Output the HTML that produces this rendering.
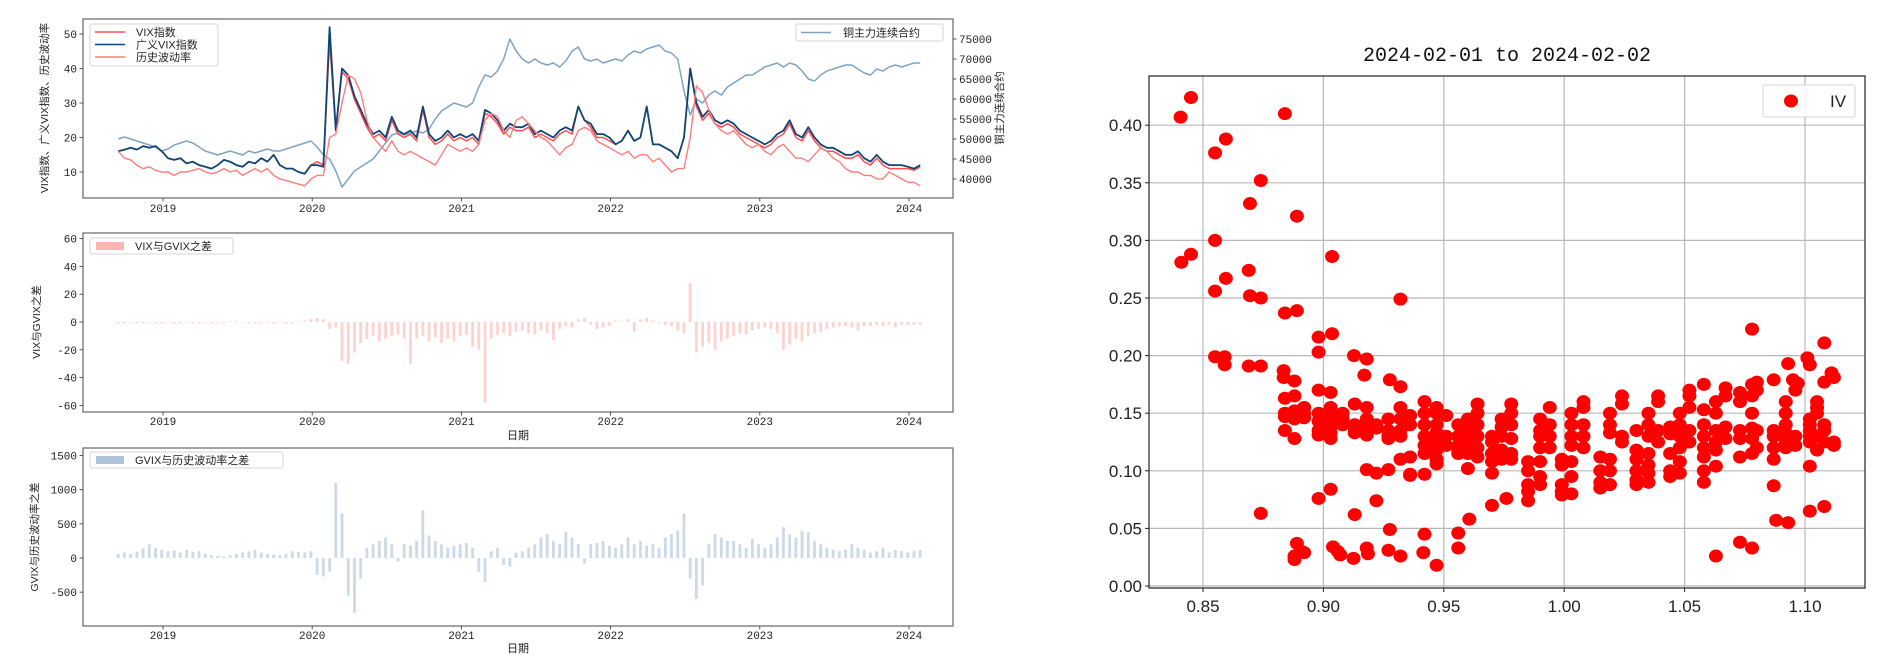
<!DOCTYPE html>
<html><head><meta charset="utf-8"><style>
html,body{margin:0;padding:0;background:#fff;}
svg text{font-family:"Liberation Sans","Noto Sans CJK SC",sans-serif;}
.mono{font-family:"Liberation Mono","Noto Sans CJK SC",monospace !important;}
</style></head><body>
<svg id="chart" xmlns="http://www.w3.org/2000/svg" width="1878" height="654" viewBox="0 0 1878 654">
<rect width="1878" height="654" fill="#fff"/>
<g id="p1"></g>
<g id="p2"></g>
<g id="p3"></g>
<g id="p4"></g>
</svg>
<script>
// time axis: half-month steps from 2018.70
const tStart = 2018.70;
const tStep = 1/24;
const yearTicks = [2019, 2020, 2021, 2022, 2023, 2024];
const gvix = [16,16.5,17,16.5,17.5,17,17.5,16,14,13.5,14,12.5,13,12,11.5,11,12,13.5,13,12,11.5,13,12.5,14,13,15,12,11,11,10,9.5,12,12,11.5,52,22,40,38,32,28,24,21,22,20,26,22,21,22,20,29,21,19,20,22,20,21,20,21,19,28,27,25,22,24,23,23,24,21,22,21,20,22,23,22,29,25,24,21,21,20,18,19,22,19,20,29,18,18,17,16,14,20,40,30,26,28,25,24,25,24,22,21,20,19,18,19,21,22,25,21,20,23,20,18,17,17,16,15,15,16,14,13,15,13,12,12,12,11.5,11,12];
const vix = [16,16.5,17,16.5,17.5,17,17.5,16,14,13.5,14,12.5,13,12,11.5,11,12,13.5,13,12,11.5,13,12.5,14,13,15,12,11,11,10,9.5,12,13,12,48,22,39,37,31,27,23,20,21,19,25,21,20,21,19,28,20,18,19,21,19,20,19,20,18,27,26,24,21,23,22,22,23,20,21,20,19,21,22,21,29,25,23,20,20,19,18,19,22,19,20,29,18,18,17,16,14,20,40,29,25,27,24,23,24,23,21,20,19,18,17,18,20,21,24,20,19,22,19,17,16,16,15,14,14,15,13,12,14,12,11,11,11,11,10.5,11.5];
const hv = [16,14,13.5,12,11,11.5,10.5,10,10,9,10,10,10.5,11,10,9.5,10,11,10,10.5,9,10,11,10,11,9,8,7.5,7,6.5,6,8,9,9,20,21,30,38,37,33,25,20,18,16,19,16,15,16,15,14,13,12,15,18,17,16,17,16,18,25,27,26,22,20,25,26,24,22,20,19,17,15,17,18,22,23,22,19,18,17,16,15,16,14,15,15,13,14,12,10,11,11,20,35,33,28,24,22,21,22,20,18,17,18,16,15,17,18,16,14,14,13,15,17,16,14,13,11,10,10,9,9,8,8,10,9,8,7,7,6];
const copper = [50000,50500,50000,49500,49000,48500,48000,47000,47500,48500,49000,49500,49000,48000,47000,46500,46000,46500,47000,46500,46000,47000,46500,47000,47500,47000,47000,47500,48000,48500,49000,49500,48000,46000,45000,42000,38000,40000,42000,43000,44000,45000,47000,49000,51000,51500,51000,51500,52000,51500,52500,55000,57000,58000,59000,58500,58000,59000,63000,66000,65500,67000,70000,75000,72000,70000,69000,70000,69000,68500,69000,68000,69500,72000,73000,70000,69500,70000,69000,69500,70000,69500,71000,72000,71500,72500,73000,73500,72000,71500,70000,62000,56000,60000,59000,61000,62000,61000,63000,64000,65000,66000,66000,67000,68000,68500,69000,68000,69000,68500,67000,65000,64500,66000,67000,67500,68000,68500,68500,67500,66500,66000,67500,67000,68000,68500,68000,68500,69000,69000];
const diff1 = [-1,-1,-0.5,-1,-1,-0.5,-1,-1,-0.5,-1,-1,-0.5,-1,-1,-0.5,-1,-0.5,-1,0.5,0.5,-0.5,-1,-0.5,-1,-0.5,-1,-0.5,-1,-1,0.5,1,2,3,2,-5,-4,-28,-30,-22,-15,-12,-10,-14,-12,-10,-9,-12,-30,-12,-10,-14,-11,-15,-12,-14,-10,-9,-18,-20,-58,-12,-9,-8,-10,-7,-6,-8,-9,-6,-8,-13,-5,-3,-4,2,3,-2,-5,-4,-3,1,0.5,2,-7,2,3,1,-1,-2,-3,-6,-8,28,-22,-18,-15,-20,-14,-12,-10,-8,-9,-6,-5,-4,-5,-8,-20,-16,-12,-14,-10,-8,-7,-5,-4,-3,-3,-4,-6,-3,-3,-2,-3,-2,-4,-2,-2,-2,-2];
const diff2 = [60,80,60,90,140,200,150,120,100,110,80,120,90,100,60,40,30,20,40,60,80,100,120,80,60,50,40,60,100,90,80,100,-250,-270,-200,1100,650,-550,-800,-300,150,200,250,300,200,-50,200,180,250,700,330,250,200,150,180,200,220,150,-200,-350,100,150,-100,-130,80,100,150,200,300,350,250,200,380,300,200,-80,200,220,250,180,150,200,300,200,250,180,200,150,300,350,400,650,-300,-600,-400,200,350,300,250,250,200,150,280,200,150,200,300,450,350,300,400,380,250,200,150,120,100,120,200,150,120,80,100,150,80,120,100,80,100,120];
const leftTicks1 = [10,20,30,40,50];
const rightTicks1 = [40000,45000,50000,55000,60000,65000,70000,75000];
const ticks2 = [-60,-40,-20,0,20,40,60];
const ticks3 = [-500,0,500,1000,1500];
// scatter data
const moneyness = [0.8407,0.845,0.884,0.855,0.8595,0.874,0.8695,0.889,0.855,0.841,0.845,0.9036,0.869,0.8595,0.855,0.8695,0.874,0.932,0.884,0.889,1.078,0.9036,0.898,0.898,1.108,0.855,0.859,0.859,0.869,0.874,0.9127,0.918,0.917,0.8835,0.8835,0.888,0.9276,0.932,1.101,1.102,1.093,1.111,1.112,1.087,1.095,1.097,
0.874,0.898,0.903,0.922,0.913,0.9276,0.942,0.956,0.956,0.9606,0.970,0.976,0.985,0.889,0.891,0.892,0.888,0.888,0.904,0.906,0.907,0.9125,0.918,0.9185,0.927,0.932,0.9415,0.947,1.063,1.073,1.078,1.088,1.093,1.102,1.108,1.087,1.102,
0.884,0.884,0.884,0.884,0.888,0.888,0.888,0.888,0.888,0.892,0.892,0.892,0.898,0.898,0.898,0.898,0.898,0.903,0.903,0.903,0.903,0.903,0.903,0.903,0.908,0.908,0.908,0.913,0.913,0.913,0.913,0.918,0.918,0.918,0.918,0.918,0.918,0.922,0.922,0.922,0.927,0.927,0.927,0.927,0.927,0.932,0.932,0.932,0.932,0.932,0.936,0.936,0.936,0.936,0.936,0.942,0.942,0.942,0.942,0.942,0.942,0.942,0.947,0.947,0.947,0.947,0.947,0.947,0.947,0.947,0.951,0.951,0.951,0.956,0.956,0.956,0.956,0.956,0.960,0.960,0.960,0.960,0.960,0.960,0.964,0.964,0.964,0.964,0.964,0.964,0.970,0.970,0.970,0.970,0.970,0.974,0.974,0.974,0.974,0.974,0.978,0.978,0.978,0.978,0.978,0.978,0.985,0.985,0.985,0.985,0.990,0.990,0.990,0.990,0.990,0.990,0.990,0.994,0.994,0.994,0.994,0.999,0.999,0.999,0.999,0.999,1.003,1.003,1.003,1.003,1.003,1.003,1.003,1.008,1.008,1.008,1.008,1.008,1.015,1.015,1.015,1.015,1.019,1.019,1.019,1.019,1.019,1.019,1.024,1.024,1.024,1.024,1.030,1.030,1.030,1.030,1.030,1.030,1.035,1.035,1.035,1.035,1.035,1.035,1.035,1.039,1.039,1.039,1.039,1.044,1.044,1.044,1.044,1.044,1.048,1.048,1.048,1.048,1.048,1.048,1.052,1.052,1.052,1.052,1.052,1.058,1.058,1.058,1.058,1.058,1.058,1.058,1.058,1.063,1.063,1.063,1.063,1.063,1.063,1.067,1.067,1.067,1.067,1.073,1.073,1.073,1.073,1.073,1.078,1.078,1.078,1.078,1.078,1.078,1.080,1.080,1.080,1.080,1.087,1.087,1.087,1.087,1.092,1.092,1.092,1.092,1.092,1.092,1.096,1.096,1.096,1.102,1.102,1.102,1.102,1.102,1.105,1.105,1.105,1.105,1.105,1.108,1.108,1.108,1.108,1.112,1.112];
const ivValues = [0.407,0.424,0.410,0.376,0.388,0.352,0.332,0.321,0.300,0.281,0.288,0.286,0.274,0.267,0.256,0.252,0.250,0.249,0.237,0.239,0.223,0.219,0.216,0.203,0.211,0.199,0.199,0.192,0.191,0.191,0.200,0.197,0.183,0.187,0.181,0.178,0.179,0.173,0.198,0.192,0.193,0.185,0.181,0.179,0.179,0.176,
0.063,0.076,0.084,0.074,0.062,0.049,0.045,0.046,0.033,0.058,0.070,0.076,0.074,0.037,0.030,0.029,0.023,0.026,0.034,0.030,0.027,0.024,0.033,0.028,0.031,0.026,0.029,0.018,0.026,0.038,0.033,0.057,0.055,0.065,0.069,0.087,0.104,
0.163,0.150,0.147,0.135,0.165,0.150,0.145,0.128,0.152,0.155,0.150,0.146,0.170,0.150,0.143,0.135,0.131,0.168,0.155,0.150,0.145,0.138,0.133,0.128,0.150,0.145,0.140,0.158,0.140,0.137,0.133,0.155,0.145,0.140,0.135,0.131,0.101,0.140,0.137,0.098,0.145,0.135,0.130,0.128,0.101,0.155,0.145,0.135,0.130,0.110,0.148,0.140,0.112,0.097,0.096,0.160,0.150,0.140,0.130,0.122,0.115,0.097,0.155,0.150,0.140,0.133,0.125,0.118,0.110,0.106,0.148,0.130,0.122,0.140,0.130,0.122,0.117,0.115,0.145,0.135,0.128,0.120,0.115,0.102,0.158,0.150,0.140,0.130,0.120,0.112,0.130,0.125,0.115,0.108,0.098,0.145,0.138,0.130,0.118,0.110,0.158,0.150,0.140,0.128,0.115,0.110,0.108,0.100,0.088,0.082,0.145,0.135,0.130,0.120,0.108,0.095,0.088,0.155,0.140,0.130,0.120,0.110,0.105,0.088,0.082,0.079,0.150,0.140,0.130,0.122,0.108,0.095,0.080,0.160,0.155,0.140,0.130,0.120,0.112,0.100,0.090,0.085,0.150,0.140,0.133,0.110,0.100,0.088,0.165,0.158,0.130,0.125,0.135,0.118,0.110,0.100,0.092,0.088,0.150,0.140,0.130,0.115,0.105,0.098,0.090,0.165,0.160,0.135,0.125,0.138,0.132,0.115,0.100,0.095,0.150,0.140,0.130,0.120,0.108,0.098,0.170,0.165,0.155,0.135,0.125,0.175,0.153,0.140,0.130,0.120,0.112,0.100,0.090,0.160,0.150,0.135,0.125,0.118,0.104,0.172,0.165,0.138,0.128,0.168,0.160,0.135,0.128,0.112,0.175,0.165,0.150,0.137,0.128,0.115,0.177,0.170,0.135,0.120,0.135,0.130,0.120,0.110,0.160,0.150,0.140,0.133,0.125,0.120,0.170,0.130,0.122,0.145,0.140,0.135,0.130,0.125,0.160,0.155,0.150,0.130,0.118,0.177,0.140,0.135,0.125,0.125,0.122];
const xTicks4 = [0.85,0.90,0.95,1.00,1.05,1.10];
const yTicks4 = [0.00,0.05,0.10,0.15,0.20,0.25,0.30,0.35,0.40];
const xTickLabels4 = ['0.85','0.90','0.95','1.00','1.05','1.10'];
const yTickLabels4 = ['0.00','0.05','0.10','0.15','0.20','0.25','0.30','0.35','0.40'];

const NS='http://www.w3.org/2000/svg';
function mk(parent, tag, attrs, text){
  const e=document.createElementNS(NS,tag);
  for(const k in attrs) e.setAttribute(k,attrs[k]);
  if(text!==undefined) e.textContent=text;
  parent.appendChild(e); return e;
}
const tOf = i => tStart + i*tStep;
const X = t => 163 + (t-2019)*149.2;
const yL = v => 172 - (v-10)*3.45;
const yR = v => 179 - (v-40000)/5000*20;
const y2 = v => 322 - v*1.39;
const y3 = v => 558 - v*0.0683;
const sx = v => 1203 + (v-0.85)*2408;
const sy = v => 586 - v*1152;

function frame(g, x0,y0,x1,y1, col){
  const r=mk(g,'rect',{x:x0,y:y0,width:x1-x0,height:y1-y0,fill:'none',stroke:col,'stroke-width':1.2});
  
  
}
function xTimeAxis(g, yb, labY){
  yearTicks.forEach(yr=>{
    const x=X(yr);
    mk(g,'line',{x1:x,y1:yb,x2:x,y2:yb+3.5,stroke:'#333','stroke-width':0.8});
    const t=mk(g,'text',{x:x,y:labY,'font-size':11,'text-anchor':'middle',fill:'#222',class:'mono'},String(yr));
    
    
  });
}
function yAxis(g, ticks, f, x0){
  ticks.forEach(v=>{
    const y=f(v);
    mk(g,'line',{x1:x0-3.5,y1:y,x2:x0,y2:y,stroke:'#333','stroke-width':0.8});
    const t=mk(g,'text',{x:x0-6,y:y+4,'font-size':11,'text-anchor':'end',fill:'#222',class:'mono'},String(v));
    
    
  });
}
function line(g, arr, fy, col, w, name){
  const pts=arr.map((v,i)=>X(tOf(i)).toFixed(1)+','+fy(v).toFixed(1)).join(' ');
  const p=mk(g,'polyline',{points:pts,fill:'none',stroke:col,'stroke-width':w,'stroke-linejoin':'round'});
  
  
}
function rotLabel(g,x,y,txt,size){
  const t=mk(g,'text',{x:x,y:y,'font-size':size,'text-anchor':'middle',fill:'#222',transform:`rotate(-90 ${x} ${y})`},txt);
  
  
}
function legendBox(g,x,y,w,h){
  const r=mk(g,'rect',{x:x,y:y,width:w,height:h,fill:'#fff','fill-opacity':0.85,stroke:'#d6d6d6',rx:2});
  
  
}

// Panel 1
const p1=document.getElementById('p1');
line(p1, copper, yR, '#7fa4c3', 1.5, 'copper-line');
line(p1, vix, yL, '#ff4d4d', 1.5, 'vix-line');
line(p1, gvix, yL, '#0f4675', 1.8, 'gvix-line');
line(p1, hv, yL, '#ff7c7c', 1.4, 'hv-line');
frame(p1,83,19,953,198,'#666');
xTimeAxis(p1,198,212);
yAxis(p1,leftTicks1,yL,83);
rightTicks1.forEach(v=>{
  const y=yR(v);
  mk(p1,'line',{x1:953,y1:y,x2:956.5,y2:y,stroke:'#333','stroke-width':0.8});
  const t=mk(p1,'text',{x:959,y:y+4,'font-size':11,fill:'#222',class:'mono'},String(v));
  
  
});
rotLabel(p1,48,108,'VIX指数、广义VIX指数、历史波动率',10.5);
rotLabel(p1,1003,108,'铜主力连续合约',10.5);
legendBox(p1,90,24,128,42);
[['VIX指数','#ff4d4d'],['广义VIX指数','#0f4675'],['历史波动率','#ff7c7c']].forEach((d,i)=>{
  const y=32+i*12.5;
  const l=mk(p1,'line',{x1:95,y1:y,x2:125,y2:y,stroke:d[1],'stroke-width':1.6});
  
  
  const t=mk(p1,'text',{x:136,y:y+4,'font-size':11,fill:'#222'},d[0]);
  
  
});
legendBox(p1,796,24,147,17);
mk(p1,'line',{x1:801,y1:32.5,x2:831,y2:32.5,stroke:'#7fa4c3','stroke-width':1.6});
{const t=mk(p1,'text',{x:843,y:36.5,'font-size':11,fill:'#222'},'铜主力连续合约');

}

// Panel 2
const p2=document.getElementById('p2');
const bw = 149.2*tStep*0.45;
diff1.forEach((v,i)=>{
  const x=X(tOf(i)); const y=y2(v), z=y2(0);
  const r=mk(p2,'rect',{x:x-bw/2,y:Math.min(y,z),width:bw,height:Math.max(0.6,Math.abs(y-z)),fill:'#ff9c9c','fill-opacity':0.45});
  
  
});
frame(p2,83,233,953,412,'#666');
xTimeAxis(p2,412,425);
yAxis(p2,ticks2,y2,83);
rotLabel(p2,40,322,'VIX与GVIX之差',10.5);
{const t=mk(p2,'text',{x:518,y:439,'font-size':11,'text-anchor':'middle',fill:'#222'},'日期');
}
legendBox(p2,90,238,143,16);
mk(p2,'rect',{x:96,y:242,width:28,height:8,fill:'#ffb3b3'});
{const t=mk(p2,'text',{x:135,y:250,'font-size':11,fill:'#222'},'VIX与GVIX之差');
}

// Panel 3
const p3=document.getElementById('p3');
diff2.forEach((v,i)=>{
  const x=X(tOf(i)); const y=y3(v), z=y3(0);
  const r=mk(p3,'rect',{x:x-bw/2,y:Math.min(y,z),width:bw,height:Math.max(0.6,Math.abs(y-z)),fill:'#9ab6cf','fill-opacity':0.5});
  
  
});
frame(p3,83,448,953,626,'#666');
xTimeAxis(p3,626,639);
yAxis(p3,ticks3,y3,83);
rotLabel(p3,38,537,'GVIX与历史波动率之差',10.5);
{const t=mk(p3,'text',{x:518,y:652,'font-size':11,'text-anchor':'middle',fill:'#222'},'日期');
}
legendBox(p3,90,452,193,16);
mk(p3,'rect',{x:96,y:456,width:28,height:8,fill:'#aec4d8'});
{const t=mk(p3,'text',{x:135,y:464,'font-size':11,fill:'#222'},'GVIX与历史波动率之差');
}

// Panel 4 scatter
const p4=document.getElementById('p4');
const L=1149,R=1865,T=76,B=588;
xTicks4.forEach((v,i)=>{
  const x=sx(v);
  mk(p4,'line',{x1:x,y1:T,x2:x,y2:B,stroke:'#b8b8b8','stroke-width':1.2});
  mk(p4,'line',{x1:x,y1:B,x2:x,y2:B+4,stroke:'#222','stroke-width':1});
  const t=mk(p4,'text',{x:x,y:B+24,'font-size':17,'text-anchor':'middle',fill:'#222'},xTickLabels4[i]);
  
});
yTicks4.forEach((v,i)=>{
  const y=sy(v);
  mk(p4,'line',{x1:L,y1:y,x2:R,y2:y,stroke:'#b8b8b8','stroke-width':1.2});
  mk(p4,'line',{x1:L-4,y1:y,x2:L,y2:y,stroke:'#222','stroke-width':1});
  const t=mk(p4,'text',{x:L-7,y:y+6,'font-size':17,'text-anchor':'end',fill:'#222'},yTickLabels4[i]);
  
});
moneyness.forEach((m,i)=>{
  if(ivValues[i]===undefined) return;
  const c=mk(p4,'ellipse',{cx:sx(m),cy:sy(ivValues[i]),rx:7,ry:6.5,fill:'#ff0000'});
  
  
});
frame(p4,L,T,R,B,'#222');
{const t=mk(p4,'text',{x:1507,y:61,'font-size':20,'text-anchor':'middle',fill:'#111',class:'mono'},'2024-02-01 to 2024-02-02');
}
legendBox(p4,1763,85,92,32);
mk(p4,'ellipse',{cx:1791,cy:101,rx:7,ry:6.5,fill:'#ff0000'});
{const t=mk(p4,'text',{x:1830,y:107,'font-size':17,fill:'#222'},'IV');
}
</script>
</body></html>
